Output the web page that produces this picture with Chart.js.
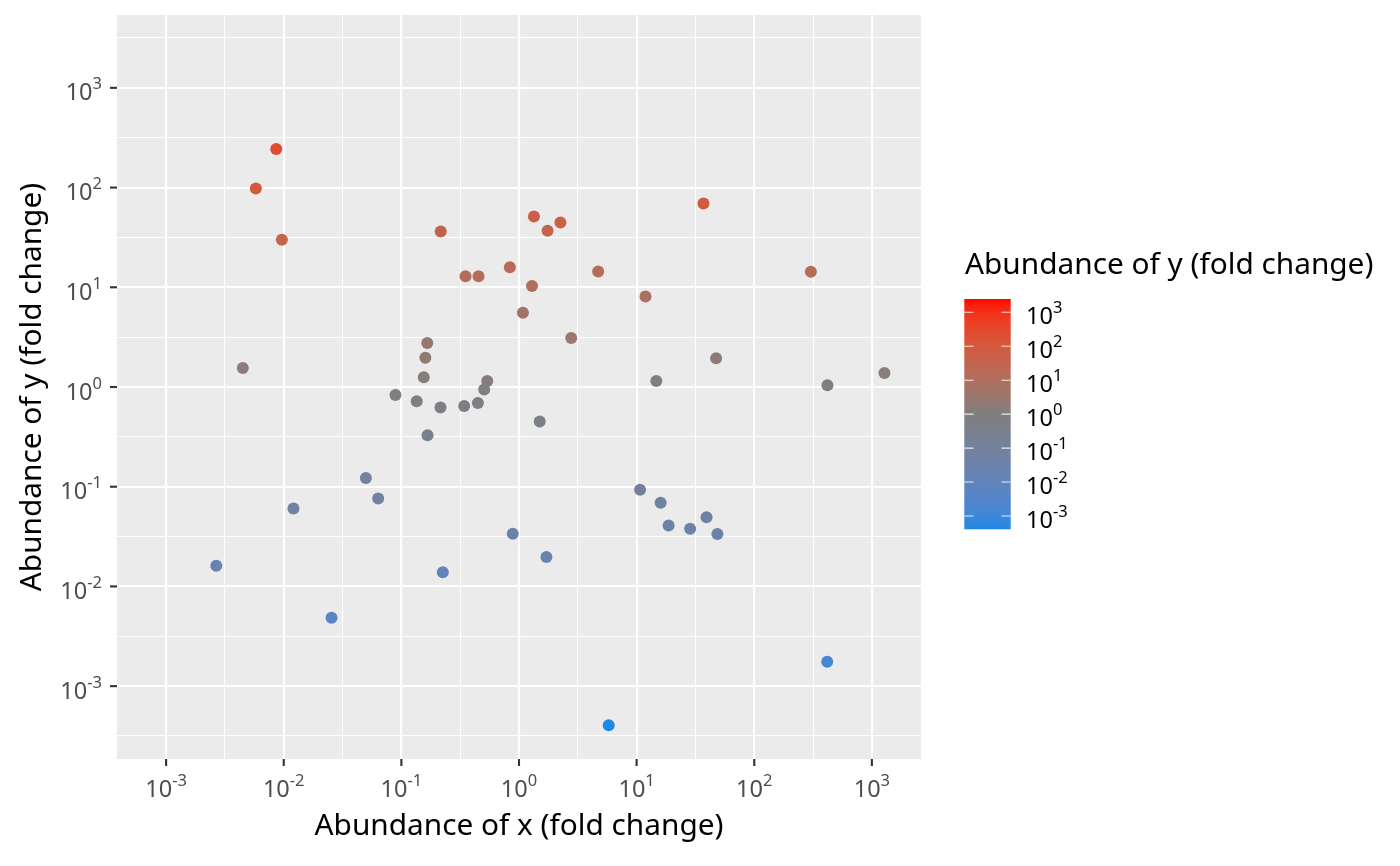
<!DOCTYPE html>
<html>
<head>
<meta charset="utf-8">
<script src="https://cdn.jsdelivr.net/npm/chart.js@4.4.1/dist/chart.umd.min.js"></script>
<style>
  html, body { margin: 0; padding: 0; background: #fff; }
  #wrap { width: 1400px; height: 866px; position: relative; }
</style>
</head>
<body>
<div id="wrap"><canvas id="scatter"></canvas></div>
<script>
// fold changes
const xValues = [
  0.00863, 0.00579, 0.00964, 0.216, 0.351, 0.00449, 0.166, 0.160, 0.155, 0.0891,
  0.135, 0.215, 0.342, 0.453, 0.836, 1.34, 1.75, 2.25, 1.29, 1.08,
  4.71, 11.9, 37.0, 303, 2.78, 47.4, 14.7, 419, 1279, 0.537,
  0.506, 0.447, 1.50, 0.167, 0.0499, 0.0635, 0.0121, 0.00267, 0.225, 0.0255,
  10.7, 16.0, 18.7, 28.5, 39.3, 48.6, 0.885, 1.71, 417, 5.79,
];
const yValues = [
  244, 97.7, 29.9, 36.2, 12.9, 1.55, 2.76, 1.97, 1.25, 0.832,
  0.719, 0.622, 0.646, 12.9, 15.9, 51.3, 36.8, 44.6, 10.3, 5.56,
  14.4, 8.09, 69.2, 14.3, 3.10, 1.94, 1.15, 1.04, 1.38, 1.15,
  0.942, 0.692, 0.450, 0.328, 0.122, 0.0762, 0.0605, 0.0161, 0.0139, 0.00486,
  0.0931, 0.0689, 0.0409, 0.0378, 0.0495, 0.0335, 0.0337, 0.0197, 0.00176, 0.000406,
];
const xTickExponents = [-3, -2, -1, 0, 1, 2, 3];
const yTickExponents = [-3, -2, -1, 0, 1, 2, 3];
const legendTickExponents = [-3, -2, -1, 0, 1, 2, 3];

const xTitle = "Abundance of x (fold change)";
const yTitle = "Abundance of y (fold change)";
const legendTitle = "Abundance of y (fold change)";

const lowColour = "#1E88E5";
const midColour = "#7F7F7F";
const highColour = "#FF0000";

const FONT = "'Noto Sans', 'Open Sans', sans-serif";

// symmetric limits like the original, 5% expansion
const maxAbsLog = (arr) => Math.max(...arr.map((v) => Math.abs(Math.log10(v))));
const xLim = maxAbsLog(xValues) * 1.1;
const yLim = maxAbsLog(yValues) * 1.1;
const colourLim = maxAbsLog(yValues);

// --- Lab colour ramp (low - mid - high) ---
function hexToRgb(h) {
  const n = parseInt(h.slice(1), 16);
  return [(n >> 16) & 255, (n >> 8) & 255, n & 255];
}
function rgbToLab(rgb) {
  const lin = rgb.map((c) => {
    c /= 255;
    return c <= 0.04045 ? c / 12.92 : Math.pow((c + 0.055) / 1.055, 2.4);
  });
  let X = (0.4124564 * lin[0] + 0.3575761 * lin[1] + 0.1804375 * lin[2]) / 0.95047;
  let Y = 0.2126729 * lin[0] + 0.7151522 * lin[1] + 0.072175 * lin[2];
  let Z = (0.0193339 * lin[0] + 0.119192 * lin[1] + 0.9503041 * lin[2]) / 1.08883;
  const f = (t) => (t > 0.008856 ? Math.cbrt(t) : 7.787 * t + 16 / 116);
  const fx = f(X), fy = f(Y), fz = f(Z);
  return [116 * fy - 16, 500 * (fx - fy), 200 * (fy - fz)];
}
function labToRgb(lab) {
  const fy = (lab[0] + 16) / 116;
  const fx = fy + lab[1] / 500;
  const fz = fy - lab[2] / 200;
  const inv = (t) => (t * t * t > 0.008856 ? t * t * t : (t - 16 / 116) / 7.787);
  const X = inv(fx) * 0.95047, Y = inv(fy), Z = inv(fz) * 1.08883;
  const lin = [
    3.2404542 * X - 1.5371385 * Y - 0.4985314 * Z,
    -0.969266 * X + 1.8760108 * Y + 0.041556 * Z,
    0.0556434 * X - 0.2040259 * Y + 1.0572252 * Z,
  ];
  return lin.map((c) => {
    c = c <= 0.0031308 ? 12.92 * c : 1.055 * Math.pow(c, 1 / 2.4) - 0.055;
    return Math.round(Math.min(1, Math.max(0, c)) * 255);
  });
}
const lowLab = rgbToLab(hexToRgb(lowColour));
const midLab = rgbToLab(hexToRgb(midColour));
const highLab = rgbToLab(hexToRgb(highColour));

function colourForLog(lg) {
  let t = Math.max(-1, Math.min(1, lg / colourLim));
  const end = t < 0 ? lowLab : highLab;
  t = Math.abs(t);
  const lab = midLab.map((m, i) => m + (end[i] - m) * t);
  const rgb = labToRgb(lab);
  return `rgb(${rgb[0]},${rgb[1]},${rgb[2]})`;
}

const points = xValues.map((x, i) => ({ x: x, y: yValues[i] }));
const pointColours = yValues.map((y) => colourForLog(Math.log10(y)));

function gridTicks(exps, lim) {
  const vals = [];
  exps.forEach((e) => vals.push(e));
  for (let e = exps[0] - 0.5; e <= exps[exps.length - 1] + 0.5; e += 1) {
    if (Math.abs(e) < lim) vals.push(e);
  }
  return vals.filter((e) => Math.abs(e) < lim).map((e) => ({ value: Math.pow(10, e) }));
}
const isMajor = (v) => {
  const l = Math.log10(v);
  return Math.abs(l - Math.round(l)) < 1e-6;
};

// "10" with a raised exponent
function drawPower(ctx, exp, x, baseline, align, colour) {
  const big = "23.5px " + FONT;
  const small = "16.5px " + FONT;
  ctx.font = big;
  const w1 = ctx.measureText("10").width;
  ctx.font = small;
  const w2 = ctx.measureText(String(exp)).width;
  const total = w1 + w2;
  let start = x;
  if (align === "center") start = x - total / 2;
  if (align === "right") start = x - total;
  ctx.fillStyle = colour;
  ctx.textAlign = "left";
  ctx.textBaseline = "alphabetic";
  ctx.font = big;
  ctx.fillText("10", start, baseline);
  ctx.font = small;
  ctx.fillText(String(exp), start + w1, baseline - 11);
}

const ggplotLook = {
  id: "ggplotLook",
  beforeDraw(chart) {
    const { ctx, chartArea: a } = chart;
    ctx.save();
    ctx.fillStyle = "#fff";
    ctx.fillRect(0, 0, chart.width, chart.height);
    ctx.fillStyle = "#EBEBEB";
    ctx.fillRect(a.left, a.top, a.right - a.left, a.bottom - a.top);
    ctx.restore();
  },
  afterDraw(chart) {
    const { ctx, chartArea: a } = chart;
    const xs = chart.scales.x, ys = chart.scales.y;
    ctx.save();
    // tick marks
    ctx.strokeStyle = "#333333";
    ctx.lineWidth = 2.1;
    xTickExponents.forEach((e) => {
      const px = xs.getPixelForValue(Math.pow(10, e));
      ctx.beginPath();
      ctx.moveTo(px, a.bottom);
      ctx.lineTo(px, a.bottom + 7);
      ctx.stroke();
      drawPower(ctx, e, px, a.bottom + 37.5, "center", "#4D4D4D");
    });
    yTickExponents.forEach((e) => {
      const py = ys.getPixelForValue(Math.pow(10, e));
      ctx.beginPath();
      ctx.moveTo(a.left - 7, py);
      ctx.lineTo(a.left, py);
      ctx.stroke();
      drawPower(ctx, e, a.left - 15, py + 12.5, "right", "#4D4D4D");
    });

    // axis titles
    ctx.fillStyle = "#000";
    ctx.font = "29.8px " + FONT;
    ctx.textAlign = "center";
    ctx.textBaseline = "alphabetic";
    ctx.fillText(xTitle, (a.left + a.right) / 2, 835);
    ctx.save();
    ctx.translate(40.5, (a.top + a.bottom) / 2);
    ctx.rotate(-Math.PI / 2);
    ctx.fillText(yTitle, 0, 0);
    ctx.restore();

    // colour bar legend
    const barL = 964.3, barR = 1010.7, barT = 299, barB = 529.3;
    ctx.textAlign = "left";
    ctx.fillText(legendTitle, 965, 274);
    const grad = ctx.createLinearGradient(0, barB, 0, barT);
    const steps = 60;
    for (let i = 0; i <= steps; i++) {
      const lg = -colourLim + (2 * colourLim * i) / steps;
      grad.addColorStop(i / steps, colourForLog(lg));
    }
    ctx.fillStyle = grad;
    ctx.fillRect(barL, barT, barR - barL, barB - barT);
    const tickLen = (barR - barL) / 5;
    legendTickExponents.forEach((e) => {
      const py = barB - ((e + colourLim) / (2 * colourLim)) * (barB - barT);
      ctx.strokeStyle = "rgba(255,255,255,0.85)";
      ctx.lineWidth = 1.1;
      ctx.beginPath();
      ctx.moveTo(barL, py);
      ctx.lineTo(barL + tickLen, py);
      ctx.moveTo(barR - tickLen, py);
      ctx.lineTo(barR, py);
      ctx.stroke();
      drawPower(ctx, e, 1026, py + 12, "left", "#000");
    });
    ctx.restore();
  },
};

const gridStyle = {
  color: "#FFFFFF",
  lineWidth: (c) => (c.tick && isMajor(c.tick.value) ? 2.1 : 1.05),
  drawTicks: false,
};

new Chart(document.getElementById("scatter").getContext("2d"), {
  type: "scatter",
  data: {
    datasets: [
      {
        data: points,
        backgroundColor: pointColours,
        borderWidth: 0,
        pointRadius: 6,
        pointHoverRadius: 6,
      },
    ],
  },
  options: {
    responsive: true,
    maintainAspectRatio: false,
    animation: false,
    devicePixelRatio: 1,
    layout: { padding: { left: 117, right: 479, top: 15, bottom: 107 } },
    scales: {
      x: {
        type: "logarithmic",
        min: Math.pow(10, -xLim),
        max: Math.pow(10, xLim),
        afterBuildTicks: (axis) => { axis.ticks = gridTicks(xTickExponents, xLim); },
        ticks: { display: false },
        grid: gridStyle,
        border: { display: false },
      },
      y: {
        type: "logarithmic",
        min: Math.pow(10, -yLim),
        max: Math.pow(10, yLim),
        afterBuildTicks: (axis) => { axis.ticks = gridTicks(yTickExponents, yLim); },
        ticks: { display: false },
        grid: gridStyle,
        border: { display: false },
      },
    },
    plugins: {
      legend: { display: false },
      tooltip: { enabled: false },
    },
  },
  plugins: [ggplotLook],
});
</script>
</body>
</html>
